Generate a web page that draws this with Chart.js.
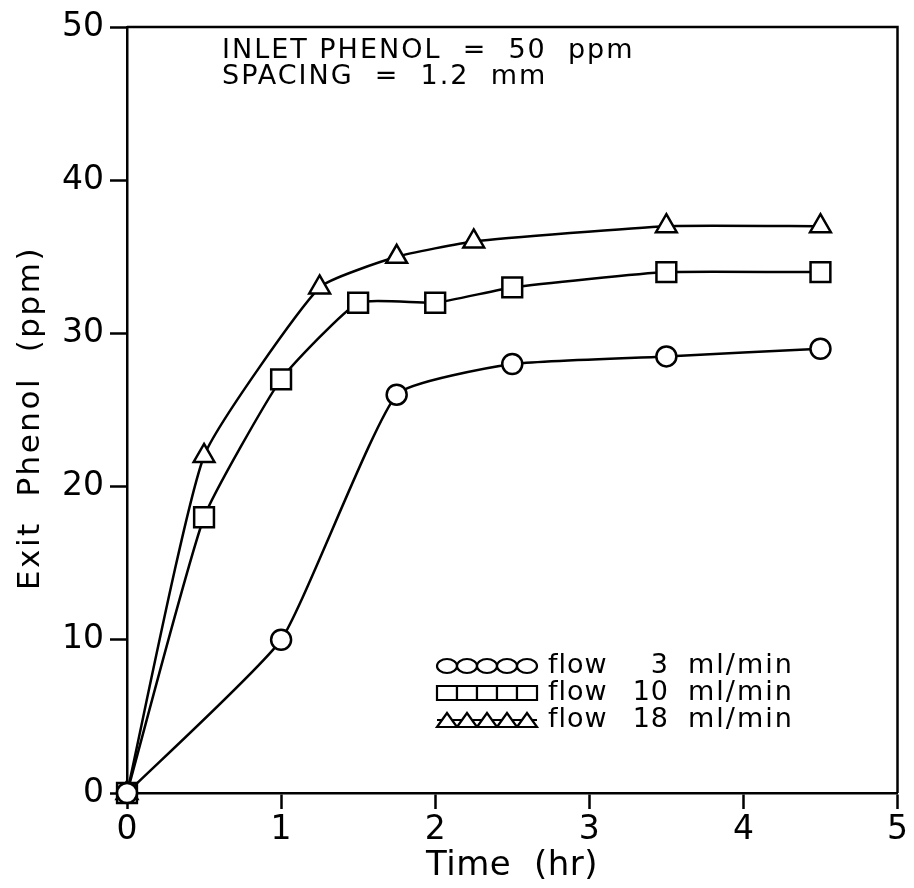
<!DOCTYPE html>
<html>
<head>
<meta charset="utf-8">
<title>Exit Phenol vs Time</title>
<script src="https://cdn.jsdelivr.net/npm/chart.js@4.4.0/dist/chart.umd.min.js"></script>
<style>
    html, body { margin: 0; padding: 0; background: #fff; }
    #wrap { width: 914px; height: 888px; }
</style>
</head>
<body>
<div id="wrap"><canvas id="phenolChart" width="914" height="888"></canvas></div>
<script>
// ---- data ----
const flowRates = [3, 10, 18];
const flowUnit = 'ml/min';
const markerStyles = ['circle', 'rect', 'triangle'];

const timeFlow3 = [0, 1, 1.75, 2.5, 3.5, 4.5];
const phenolFlow3 = [0, 10, 26, 28, 28.5, 29];

const timeFlow10 = [0, 0.5, 1, 1.5, 2, 2.5, 3.5, 4.5];
const phenolFlow10 = [0, 18, 27, 32, 32, 33, 34, 34];

const timeFlow18 = [0, 0.5, 1.25, 1.75, 2.25, 3.5, 4.5];
const phenolFlow18 = [0, 22, 33, 35, 36, 37, 37];

const xRange = [0, 5];
const yRange = [0, 50];
const noteLines = ['INLET PHENOL  =  50  ppm', 'SPACING  =  1.2  mm'];
const xTitle = 'Time  (hr)';
const yTitle = 'Exit  Phenol  (ppm)';

const FONT = '"DejaVu Sans", "Liberation Sans", sans-serif';
const INK = '#000';

function toPoints(xs, ys) {
    return xs.map((x, i) => ({ x: x, y: ys[i] }));
}

const seriesTimes = [timeFlow3, timeFlow10, timeFlow18];
const seriesValues = [phenolFlow3, phenolFlow10, phenolFlow18];
const markerRadius = [10, 14, 12];

const datasets = flowRates.map((rate, i) => ({
    label: 'flow ' + rate + ' ' + flowUnit,
    data: toPoints(seriesTimes[i], seriesValues[i]),
    borderColor: INK,
    borderWidth: 2.5,
    tension: 0.15,
    pointStyle: markerStyles[i],
    pointRadius: markerRadius[i],
    pointBorderWidth: 2.5,
    pointBorderColor: INK,
    pointBackgroundColor: '#fff',
    clip: false
}));

// hollow, slightly squashed marker for the legend rows
function drawMarker(ctx, style, x, y, rx, ry) {
    ctx.beginPath();
    if (style === 'circle') {
        ctx.ellipse(x, y, rx, ry, 0, 0, Math.PI * 2);
    } else if (style === 'rect') {
        ctx.rect(x - rx, y - ry, rx * 2, ry * 2);
    } else {
        ctx.moveTo(x, y - ry);
        ctx.lineTo(x + rx, y + ry);
        ctx.lineTo(x - rx, y + ry);
        ctx.closePath();
    }
    ctx.fill();
    ctx.stroke();
}

function spacedText(ctx, text, x, y, spacing) {
    ctx.letterSpacing = spacing + 'px';
    ctx.fillText(text, x, y);
    ctx.letterSpacing = '0px';
}

// frame, notes, axis titles and the inline legend
const decorPlugin = {
    id: 'decor',
    afterDraw(chart) {
        const ctx = chart.ctx;
        const a = chart.chartArea;
        ctx.save();
        ctx.strokeStyle = INK;
        ctx.lineWidth = 2.5;
        ctx.beginPath();
        ctx.moveTo(a.left, a.top);
        ctx.lineTo(a.right, a.top);
        ctx.lineTo(a.right, a.bottom);
        ctx.stroke();

        ctx.fillStyle = INK;
        ctx.textBaseline = 'alphabetic';

        // note in the top left
        ctx.font = '27px ' + FONT;
        ctx.textAlign = 'left';
        spacedText(ctx, noteLines[0], a.left + 95, a.top + 31, 2);
        spacedText(ctx, noteLines[1], a.left + 95, a.top + 57, 2);

        // x title
        ctx.font = '34px ' + FONT;
        ctx.textAlign = 'center';
        spacedText(ctx, xTitle, 512, 875, 0.5);

        // y title, rotated
        ctx.font = '31px ' + FONT;
        ctx.save();
        ctx.translate(39, 418);
        ctx.rotate(-Math.PI / 2);
        spacedText(ctx, yTitle, 0, 0, 2.5);
        ctx.restore();

        // legend rows
        const x0 = a.left + 320;
        const rowY = [a.bottom - 127, a.bottom - 100, a.bottom - 73];
        ctx.font = '27px ' + FONT;
        chart.data.datasets.forEach((ds, i) => {
            const y = rowY[i];
            ctx.lineWidth = 2.2;
            ctx.beginPath();
            ctx.moveTo(x0 - 10, y);
            ctx.lineTo(x0 + 90, y);
            ctx.stroke();
            ctx.fillStyle = '#fff';
            for (let k = 0; k < 5; k++) {
                drawMarker(ctx, ds.pointStyle, x0 + k * 20, y, 10, 7);
            }
            ctx.fillStyle = INK;
            ctx.textBaseline = 'middle';
            ctx.textAlign = 'left';
            spacedText(ctx, 'flow', x0 + 101, y, 1);
            ctx.textAlign = 'right';
            spacedText(ctx, String(flowRates[i]), x0 + 222, y, 1);
            ctx.textAlign = 'left';
            spacedText(ctx, flowUnit, x0 + 241, y, 2);
        });
        ctx.restore();
    }
};

new Chart(document.getElementById('phenolChart'), {
    type: 'line',
    data: { datasets: datasets },
    options: {
        responsive: false,
        animation: false,
        layout: { padding: { top: 27, right: 11, left: 0, bottom: 0 } },
        plugins: {
            legend: { display: false },
            tooltip: { enabled: false }
        },
        scales: {
            x: {
                type: 'linear',
                min: xRange[0],
                max: xRange[1],
                ticks: { stepSize: 1, color: INK, padding: 2, font: { family: FONT, size: 33 }, maxRotation: 0 },
                grid: { drawOnChartArea: false, tickLength: 16, tickColor: INK, tickWidth: 2.5 },
                border: { color: INK, width: 2.5 },
                afterFit(scale) {
                    scale.height = 95;
                    scale.paddingLeft = 0;
                    scale.paddingRight = 0;
                }
            },
            y: {
                min: yRange[0],
                max: yRange[1],
                ticks: { stepSize: 10, color: INK, padding: 6, font: { family: FONT, size: 33 } },
                grid: { drawOnChartArea: false, tickLength: 17, tickColor: INK, tickWidth: 2.5 },
                border: { color: INK, width: 2.5 },
                afterFit(scale) {
                    scale.width = 127;
                    scale.paddingTop = 0;
                    scale.paddingBottom = 0;
                }
            }
        }
    },
    plugins: [decorPlugin]
});
</script>
</body>
</html>
